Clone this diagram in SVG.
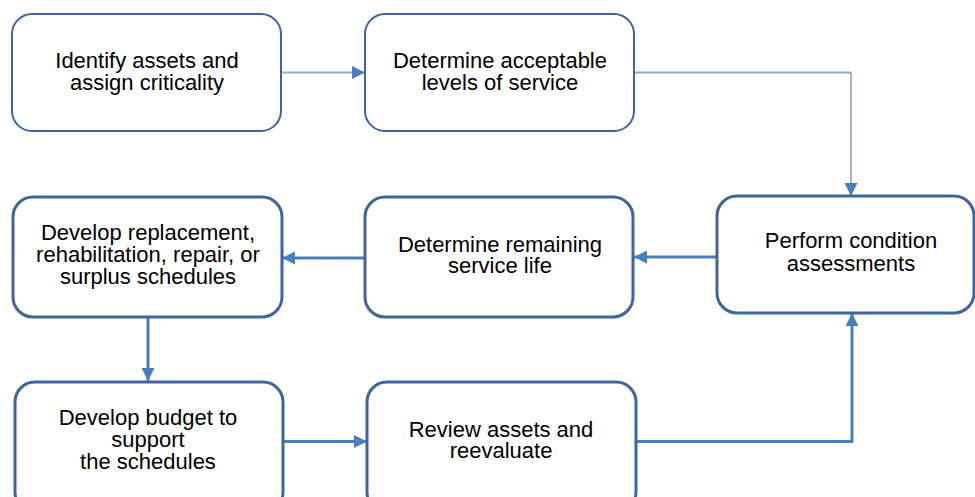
<svg xmlns="http://www.w3.org/2000/svg" width="975" height="497" viewBox="0 0 975 497">
<style>
.bg{fill:#ffffff}
.box{fill:#ffffff;stroke:#41659a}
.thin{stroke-width:2}
.thick{stroke-width:3}
.t{font-family:"Liberation Sans",Arial,sans-serif;font-size:22px;fill:#000000;text-anchor:middle}
.c{fill:none;stroke:#4a7ebb;stroke-width:3}
.cl{fill:none;stroke:#8eadd5;stroke-width:2}
.cv{fill:none;stroke:#6a90c4;stroke-width:1.3}
</style>
<defs>
<marker id="ah" markerUnits="userSpaceOnUse" markerWidth="14" markerHeight="14" refX="13" refY="6.5" orient="auto">
<path d="M0,0 L13,6.5 L0,13 Z" fill="#4a7ebb"/>
</marker>
</defs>
<rect class="bg" x="0" y="0" width="975" height="497"/>
<g id="connectors">
<path class="cl" d="M282,72.5 H365" marker-end="url(#ah)"/>
<path class="cl" d="M634,72.5 H851"/>
<path class="cv" d="M851,72.5 V196" marker-end="url(#ah)"/>
<path class="c" d="M717,257 H634" marker-end="url(#ah)"/>
<path class="c" d="M365,258 H282" marker-end="url(#ah)"/>
<path class="c" d="M148,317 V381" marker-end="url(#ah)"/>
<path class="c" d="M283,441.5 H367" marker-end="url(#ah)"/>
<path class="c" d="M636,441.5 H852 V313" marker-end="url(#ah)"/>
</g>
<g id="n1">
<rect class="box thin" x="12" y="14" width="269" height="117" rx="20"/>
<text class="t" x="147" y="68">Identify assets and<tspan x="147" dy="22">assign criticality</tspan></text>
</g>
<g id="n2">
<rect class="box thin" x="365" y="14" width="269" height="117" rx="20"/>
<text class="t" x="500" y="68">Determine acceptable<tspan x="500" dy="22">levels of service</tspan></text>
</g>
<g id="n3">
<rect class="box thick" x="717" y="196" width="257" height="117" rx="20"/>
<text class="t" x="851" y="248">Perform condition<tspan x="851" dy="23">assessments</tspan></text>
</g>
<g id="n4">
<rect class="box thick" x="365" y="197" width="268" height="120" rx="20"/>
<text class="t" x="500" y="252">Determine remaining<tspan x="500" dy="21">service life</tspan></text>
</g>
<g id="n5">
<rect class="box thick" x="13" y="197" width="269" height="120" rx="20"/>
<text class="t" x="148" y="240">Develop replacement,<tspan x="148" dy="22">rehabilitation, repair, or</tspan><tspan x="148" dy="22">surplus schedules</tspan></text>
</g>
<g id="n6">
<rect class="box thick" x="15" y="382" width="268" height="130" rx="20"/>
<text class="t" x="148" y="425">Develop budget to<tspan x="148" dy="22">support</tspan><tspan x="148" dy="22">the schedules</tspan></text>
</g>
<g id="n7">
<rect class="box thick" x="367" y="382" width="269" height="130" rx="20"/>
<text class="t" x="501" y="437">Review assets and<tspan x="501" dy="21">reevaluate</tspan></text>
</g>
</svg>
